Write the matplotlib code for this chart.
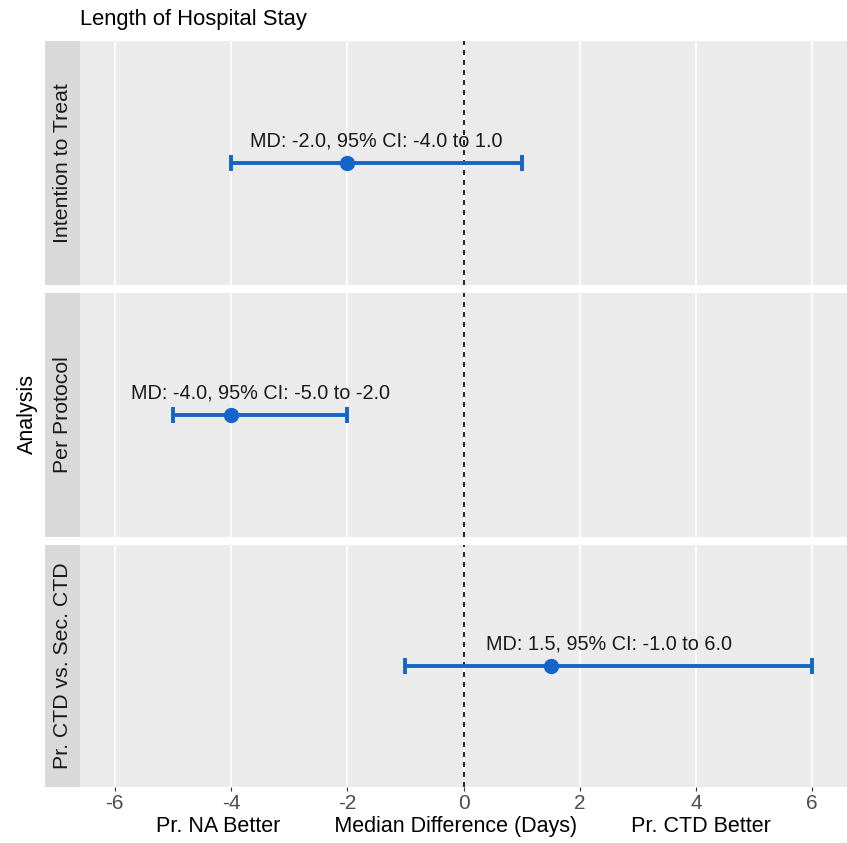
import matplotlib.pyplot as plt
import numpy as np

plt.rcParams['font.family'] = ['Liberation Sans', 'DejaVu Sans']
plt.rcParams['axes.unicode_minus'] = False

# data
analyses = ["Intention to Treat", "Per Protocol", "Pr. CTD vs. Sec. CTD"]
md = [-2.0, -4.0, 1.5]
ci_low = [-4.0, -5.0, -1.0]
ci_high = [1.0, -2.0, 6.0]
xticks = [-6, -4, -2, 0, 2, 4, 6]

blue = "#1565c8"
W, H = 847, 843

fig = plt.figure(figsize=(W / 100, H / 100), dpi=100)

# panel extents in pixels (top, bottom)
panels = [(41, 285), (293, 537), (545, 787)]
px_left, px_right = 80, 847
strip_left = 45

for i, name in enumerate(analyses):
    top, bot = panels[i]
    ax = fig.add_axes([px_left / W, 1 - bot / H, (px_right - px_left) / W, (bot - top) / H])
    ax.set_facecolor("#ebebeb")
    for s in ax.spines.values():
        s.set_visible(False)
    ax.set_xlim(-6.6, 6.6)
    ax.set_ylim(-1, 1)
    ax.set_yticks([])
    ax.set_xticks(xticks)
    ax.grid(axis='x', color='white', linewidth=1.2)
    ax.set_axisbelow(True)
    ax.axvline(0, color='black', linestyle=(0, (3, 3)), linewidth=1.2, zorder=2)

    m, lo, hi = md[i], ci_low[i], ci_high[i]
    ax.errorbar([m], [0], xerr=[[m - lo], [hi - m]], fmt='o', color=blue,
                markersize=10, elinewidth=2.8, capsize=5.5, capthick=2.8, zorder=3)
    ax.annotate("MD: %.1f, 95%% CI: %.1f to %.1f" % (m, lo, hi),
                xy=((lo + hi) / 2, 0), xytext=(0, 16), textcoords='offset points',
                ha='center', va='center', fontsize=14.3, color='#1a1a1a')

    if i < len(analyses) - 1:
        ax.tick_params(axis='x', length=0, labelbottom=False)
    else:
        ax.tick_params(axis='x', length=3, width=0.8, color='#333333',
                       labelcolor='#4d4d4d', labelsize=15, pad=2)
        ax.set_xlabel("Pr. NA Better         Median Difference (Days)         Pr. CTD Better",
                      fontsize=15.5, color='black', labelpad=2)

    # facet strip on the left
    sax = fig.add_axes([strip_left / W, 1 - bot / H, (px_left - strip_left) / W, (bot - top) / H])
    sax.set_facecolor("#d9d9d9")
    sax.set_xticks([])
    sax.set_yticks([])
    for s in sax.spines.values():
        s.set_visible(False)
    sax.text(0.5, 0.5, name, rotation=90, ha='center', va='center',
             fontsize=15.3, color='#1a1a1a', transform=sax.transAxes)

fig.text(px_left / W, 1 - 20 / H, "Length of Hospital Stay", ha='left', va='center',
         fontsize=15.8, color='black')
fig.text(27 / W, 1 - 414 / H, "Analysis", rotation=90, ha='center', va='center',
         fontsize=15.5, color='black')

plt.savefig("out.png", dpi=100, facecolor='white')
plt.close()
